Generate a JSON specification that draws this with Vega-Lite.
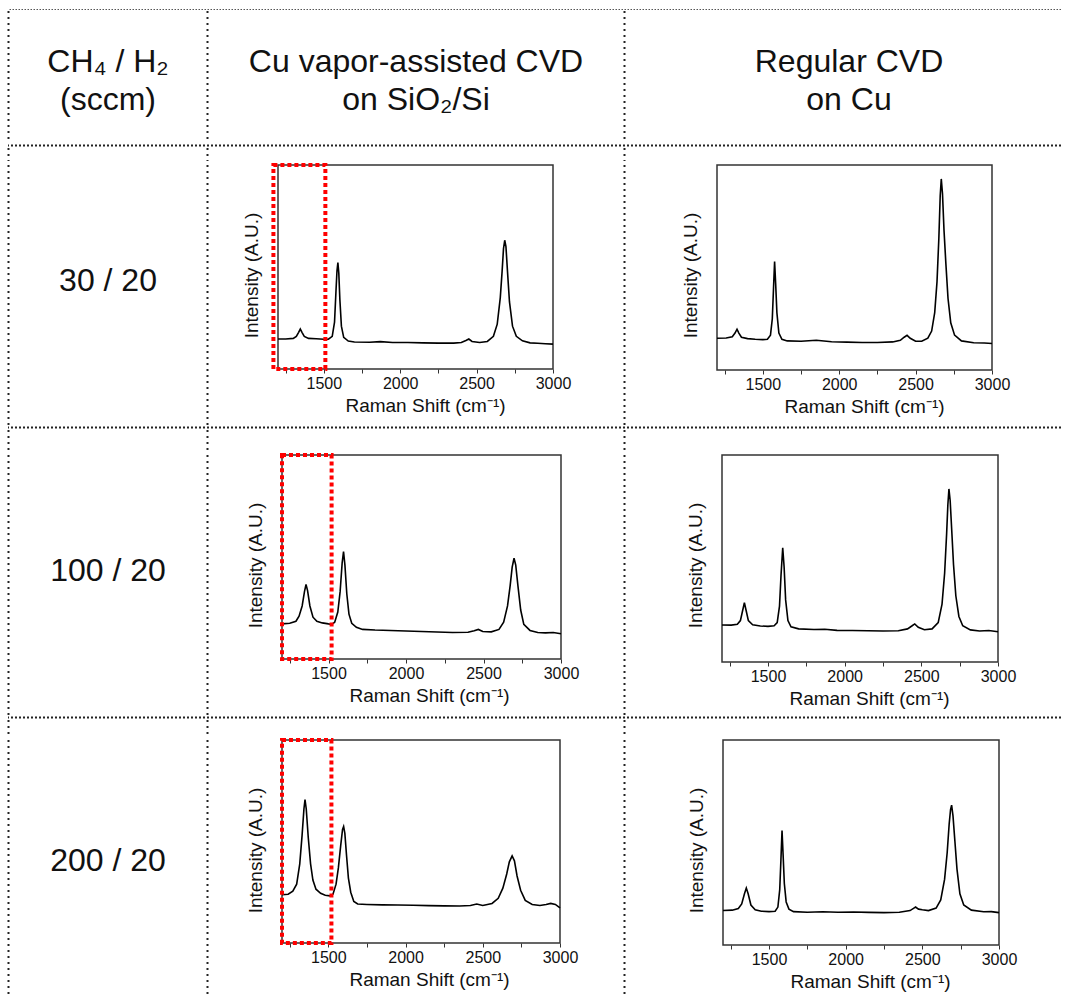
{
"$schema": "https://vega.github.io/schema/vega-lite/v6.json",
"padding": {"left": 7, "top": 9, "right": 0, "bottom": 0},
"background": "white",
"spacing": 0,
"bounds": "full",
"config": {
  "view": {"stroke": null},
  "concat": {"spacing": 0},
  "axis": {"grid": false, "domain": false, "labelFont": "Liberation Sans", "titleFont": "Liberation Sans", "labelColor": "#111", "titleColor": "#111", "titleFontWeight": "normal", "tickColor": "#333"},
  "axisX": {"tickSize": 4, "labelFontSize": 16, "labelPadding": 2, "titleFontSize": 19, "titlePadding": 5, "labelFlush": false, "labelOverlap": false, "titleX": 147},
  "axisY": {"titleFontSize": 19, "labels": false, "ticks": false, "minExtent": 0, "titlePadding": 17, "titleY": 110}
},
"datasets": {
  "A": [{"shift":1200,"intensity":0.147},{"shift":1250,"intensity":0.147},{"shift":1300,"intensity":0.150},{"shift":1320,"intensity":0.160},{"shift":1335,"intensity":0.180},{"shift":1346,"intensity":0.196},{"shift":1357,"intensity":0.180},{"shift":1372,"intensity":0.160},{"shift":1400,"intensity":0.150},{"shift":1450,"intensity":0.148},{"shift":1500,"intensity":0.146},{"shift":1530,"intensity":0.146},{"shift":1555,"intensity":0.160},{"shift":1570,"intensity":0.230},{"shift":1580,"intensity":0.390},{"shift":1586,"intensity":0.480},{"shift":1592,"intensity":0.522},{"shift":1598,"intensity":0.470},{"shift":1605,"intensity":0.340},{"shift":1615,"intensity":0.210},{"shift":1630,"intensity":0.155},{"shift":1660,"intensity":0.137},{"shift":1700,"intensity":0.132},{"shift":1800,"intensity":0.131},{"shift":1870,"intensity":0.134},{"shift":1950,"intensity":0.130},{"shift":2050,"intensity":0.130},{"shift":2150,"intensity":0.128},{"shift":2250,"intensity":0.127},{"shift":2350,"intensity":0.127},{"shift":2400,"intensity":0.130},{"shift":2430,"intensity":0.140},{"shift":2449,"intensity":0.147},{"shift":2470,"intensity":0.135},{"shift":2520,"intensity":0.130},{"shift":2570,"intensity":0.135},{"shift":2610,"intensity":0.160},{"shift":2635,"intensity":0.220},{"shift":2655,"intensity":0.350},{"shift":2667,"intensity":0.480},{"shift":2676,"intensity":0.590},{"shift":2684,"intensity":0.631},{"shift":2692,"intensity":0.600},{"shift":2702,"intensity":0.480},{"shift":2715,"intensity":0.330},{"shift":2735,"intensity":0.210},{"shift":2760,"intensity":0.160},{"shift":2800,"intensity":0.138},{"shift":2850,"intensity":0.128},{"shift":2900,"intensity":0.126},{"shift":2950,"intensity":0.124},{"shift":3000,"intensity":0.122}],
  "B": [{"shift":1200,"intensity":0.155},{"shift":1260,"intensity":0.156},{"shift":1300,"intensity":0.162},{"shift":1318,"intensity":0.180},{"shift":1331,"intensity":0.199},{"shift":1343,"intensity":0.180},{"shift":1360,"intensity":0.160},{"shift":1400,"intensity":0.153},{"shift":1450,"intensity":0.150},{"shift":1500,"intensity":0.148},{"shift":1530,"intensity":0.150},{"shift":1550,"intensity":0.170},{"shift":1562,"intensity":0.250},{"shift":1570,"intensity":0.400},{"shift":1577,"intensity":0.529},{"shift":1584,"intensity":0.420},{"shift":1592,"intensity":0.280},{"shift":1605,"intensity":0.180},{"shift":1625,"intensity":0.150},{"shift":1660,"intensity":0.142},{"shift":1750,"intensity":0.140},{"shift":1850,"intensity":0.145},{"shift":1950,"intensity":0.138},{"shift":2050,"intensity":0.136},{"shift":2150,"intensity":0.134},{"shift":2250,"intensity":0.134},{"shift":2350,"intensity":0.137},{"shift":2400,"intensity":0.145},{"shift":2425,"intensity":0.160},{"shift":2444,"intensity":0.169},{"shift":2465,"intensity":0.155},{"shift":2500,"intensity":0.140},{"shift":2540,"intensity":0.140},{"shift":2580,"intensity":0.155},{"shift":2605,"intensity":0.190},{"shift":2625,"intensity":0.280},{"shift":2640,"intensity":0.430},{"shift":2652,"intensity":0.640},{"shift":2661,"intensity":0.850},{"shift":2668,"intensity":0.932},{"shift":2676,"intensity":0.860},{"shift":2686,"intensity":0.680},{"shift":2698,"intensity":0.520},{"shift":2712,"intensity":0.350},{"shift":2730,"intensity":0.230},{"shift":2755,"intensity":0.170},{"shift":2800,"intensity":0.142},{"shift":2880,"intensity":0.133},{"shift":2950,"intensity":0.132},{"shift":3000,"intensity":0.129}],
  "C": [{"shift":1200,"intensity":0.172},{"shift":1250,"intensity":0.175},{"shift":1290,"intensity":0.185},{"shift":1310,"intensity":0.210},{"shift":1330,"intensity":0.260},{"shift":1345,"intensity":0.330},{"shift":1355,"intensity":0.365},{"shift":1365,"intensity":0.335},{"shift":1380,"intensity":0.260},{"shift":1400,"intensity":0.205},{"shift":1425,"intensity":0.185},{"shift":1460,"intensity":0.177},{"shift":1500,"intensity":0.172},{"shift":1520,"intensity":0.170},{"shift":1540,"intensity":0.180},{"shift":1560,"intensity":0.230},{"shift":1575,"intensity":0.330},{"shift":1588,"intensity":0.470},{"shift":1597,"intensity":0.526},{"shift":1606,"intensity":0.460},{"shift":1618,"intensity":0.320},{"shift":1632,"intensity":0.220},{"shift":1650,"intensity":0.175},{"shift":1680,"intensity":0.155},{"shift":1720,"intensity":0.145},{"shift":1800,"intensity":0.142},{"shift":1900,"intensity":0.140},{"shift":2000,"intensity":0.137},{"shift":2100,"intensity":0.135},{"shift":2200,"intensity":0.132},{"shift":2300,"intensity":0.130},{"shift":2400,"intensity":0.131},{"shift":2440,"intensity":0.138},{"shift":2467,"intensity":0.145},{"shift":2495,"intensity":0.135},{"shift":2550,"intensity":0.133},{"shift":2600,"intensity":0.145},{"shift":2630,"intensity":0.180},{"shift":2655,"intensity":0.260},{"shift":2672,"intensity":0.360},{"shift":2685,"intensity":0.450},{"shift":2697,"intensity":0.494},{"shift":2708,"intensity":0.460},{"shift":2722,"intensity":0.360},{"shift":2740,"intensity":0.240},{"shift":2760,"intensity":0.170},{"shift":2800,"intensity":0.140},{"shift":2850,"intensity":0.130},{"shift":2900,"intensity":0.128},{"shift":2950,"intensity":0.130},{"shift":3000,"intensity":0.124}],
  "D": [{"shift":1200,"intensity":0.179},{"shift":1260,"intensity":0.178},{"shift":1300,"intensity":0.182},{"shift":1320,"intensity":0.200},{"shift":1335,"intensity":0.250},{"shift":1346,"intensity":0.287},{"shift":1357,"intensity":0.250},{"shift":1372,"intensity":0.200},{"shift":1400,"intensity":0.180},{"shift":1450,"intensity":0.174},{"shift":1500,"intensity":0.172},{"shift":1540,"intensity":0.175},{"shift":1560,"intensity":0.190},{"shift":1575,"intensity":0.270},{"shift":1585,"intensity":0.420},{"shift":1596,"intensity":0.552},{"shift":1605,"intensity":0.460},{"shift":1615,"intensity":0.300},{"shift":1630,"intensity":0.200},{"shift":1650,"intensity":0.170},{"shift":1700,"intensity":0.160},{"shift":1800,"intensity":0.157},{"shift":1870,"intensity":0.158},{"shift":1950,"intensity":0.153},{"shift":2050,"intensity":0.152},{"shift":2150,"intensity":0.151},{"shift":2250,"intensity":0.150},{"shift":2350,"intensity":0.151},{"shift":2410,"intensity":0.160},{"shift":2440,"intensity":0.175},{"shift":2457,"intensity":0.184},{"shift":2480,"intensity":0.168},{"shift":2520,"intensity":0.156},{"shift":2570,"intensity":0.160},{"shift":2610,"intensity":0.190},{"shift":2635,"intensity":0.280},{"shift":2652,"intensity":0.430},{"shift":2665,"intensity":0.620},{"shift":2673,"intensity":0.760},{"shift":2680,"intensity":0.836},{"shift":2688,"intensity":0.780},{"shift":2698,"intensity":0.640},{"shift":2710,"intensity":0.470},{"shift":2725,"intensity":0.320},{"shift":2745,"intensity":0.220},{"shift":2770,"intensity":0.175},{"shift":2820,"intensity":0.155},{"shift":2880,"intensity":0.150},{"shift":2940,"intensity":0.152},{"shift":3000,"intensity":0.146}],
  "E": [{"shift":1200,"intensity":0.238},{"shift":1240,"intensity":0.240},{"shift":1270,"intensity":0.255},{"shift":1295,"intensity":0.290},{"shift":1315,"intensity":0.390},{"shift":1330,"intensity":0.530},{"shift":1342,"intensity":0.660},{"shift":1349,"intensity":0.707},{"shift":1357,"intensity":0.660},{"shift":1370,"intensity":0.520},{"shift":1385,"intensity":0.390},{"shift":1400,"intensity":0.310},{"shift":1420,"intensity":0.265},{"shift":1450,"intensity":0.245},{"shift":1480,"intensity":0.235},{"shift":1510,"intensity":0.232},{"shift":1530,"intensity":0.240},{"shift":1550,"intensity":0.290},{"shift":1565,"intensity":0.370},{"shift":1580,"intensity":0.480},{"shift":1592,"intensity":0.560},{"shift":1599,"intensity":0.574},{"shift":1607,"intensity":0.540},{"shift":1618,"intensity":0.430},{"shift":1630,"intensity":0.320},{"shift":1645,"intensity":0.250},{"shift":1665,"intensity":0.205},{"shift":1690,"intensity":0.192},{"shift":1750,"intensity":0.190},{"shift":1850,"intensity":0.188},{"shift":1950,"intensity":0.187},{"shift":2050,"intensity":0.186},{"shift":2150,"intensity":0.184},{"shift":2250,"intensity":0.183},{"shift":2350,"intensity":0.182},{"shift":2420,"intensity":0.185},{"shift":2461,"intensity":0.192},{"shift":2500,"intensity":0.185},{"shift":2560,"intensity":0.195},{"shift":2600,"intensity":0.220},{"shift":2630,"intensity":0.270},{"shift":2655,"intensity":0.340},{"shift":2672,"intensity":0.400},{"shift":2690,"intensity":0.429},{"shift":2705,"intensity":0.405},{"shift":2722,"intensity":0.330},{"shift":2745,"intensity":0.260},{"shift":2775,"intensity":0.210},{"shift":2820,"intensity":0.190},{"shift":2870,"intensity":0.185},{"shift":2910,"intensity":0.190},{"shift":2940,"intensity":0.195},{"shift":2970,"intensity":0.190},{"shift":3000,"intensity":0.173}],
  "F": [{"shift":1200,"intensity":0.168},{"shift":1260,"intensity":0.170},{"shift":1300,"intensity":0.178},{"shift":1322,"intensity":0.200},{"shift":1340,"intensity":0.250},{"shift":1352,"intensity":0.278},{"shift":1364,"intensity":0.250},{"shift":1382,"intensity":0.195},{"shift":1410,"intensity":0.172},{"shift":1450,"intensity":0.165},{"shift":1500,"intensity":0.163},{"shift":1540,"intensity":0.165},{"shift":1558,"intensity":0.185},{"shift":1570,"intensity":0.270},{"shift":1578,"intensity":0.420},{"shift":1585,"intensity":0.558},{"shift":1592,"intensity":0.440},{"shift":1600,"intensity":0.300},{"shift":1612,"intensity":0.210},{"shift":1630,"intensity":0.175},{"shift":1660,"intensity":0.163},{"shift":1750,"intensity":0.160},{"shift":1850,"intensity":0.162},{"shift":1950,"intensity":0.160},{"shift":2050,"intensity":0.161},{"shift":2150,"intensity":0.159},{"shift":2250,"intensity":0.158},{"shift":2350,"intensity":0.160},{"shift":2420,"intensity":0.168},{"shift":2445,"intensity":0.180},{"shift":2456,"intensity":0.185},{"shift":2475,"intensity":0.175},{"shift":2500,"intensity":0.172},{"shift":2540,"intensity":0.168},{"shift":2590,"intensity":0.180},{"shift":2620,"intensity":0.220},{"shift":2645,"intensity":0.320},{"shift":2662,"intensity":0.450},{"shift":2675,"intensity":0.590},{"shift":2684,"intensity":0.660},{"shift":2691,"intensity":0.682},{"shift":2700,"intensity":0.630},{"shift":2712,"intensity":0.510},{"shift":2726,"intensity":0.370},{"shift":2745,"intensity":0.250},{"shift":2770,"intensity":0.195},{"shift":2820,"intensity":0.170},{"shift":2900,"intensity":0.162},{"shift":2950,"intensity":0.163},{"shift":3000,"intensity":0.158}],
  "boxA": [{"from": 1170, "to": 1510}],
  "boxC": [{"from": 1200, "to": 1520}],
  "boxE": [{"from": 1200, "to": 1520}]
},
"vconcat": [
  {"width": 1053, "height": 1, "data": {"values": [{"v": 0}]}, "mark": {"type": "rule", "color": "#555", "strokeWidth": 1, "strokeDash": [1.5, 1.5]}, "encoding": {"y": {"field": "v", "type": "quantitative", "axis": null}}},
  {"hconcat": [
    {"width": 1, "height": 132, "data": {"values": [{"v": 0}]}, "mark": {"type": "rule", "color": "#222", "strokeWidth": 2, "strokeDash": [2, 4]}, "encoding": {"x": {"field": "v", "type": "quantitative", "axis": null}}},
    {"width": 198, "height": 132, "data": {"values": [{"label": "CH₄ / H₂\n(sccm)"}]}, "mark": {"type": "text", "font": "Liberation Sans", "fontSize": 32, "lineBreak": "\n", "lineHeight": 38, "color": "#111", "dy": -15}, "encoding": {"text": {"field": "label"}}},
    {"width": 1, "height": 132, "data": {"values": [{"v": 0}]}, "mark": {"type": "rule", "color": "#222", "strokeWidth": 2, "strokeDash": [2, 4]}, "encoding": {"x": {"field": "v", "type": "quantitative", "axis": null}}},
    {"width": 416, "height": 132, "data": {"values": [{"label": "Cu vapor-assisted CVD\non SiO₂/Si"}]}, "mark": {"type": "text", "font": "Liberation Sans", "fontSize": 32, "lineBreak": "\n", "lineHeight": 38, "color": "#111", "dy": -15}, "encoding": {"text": {"field": "label"}}},
    {"width": 1, "height": 132, "data": {"values": [{"v": 0}]}, "mark": {"type": "rule", "color": "#222", "strokeWidth": 2, "strokeDash": [2, 4]}, "encoding": {"x": {"field": "v", "type": "quantitative", "axis": null}}},
    {"width": 436, "height": 132, "data": {"values": [{"label": "Regular CVD\non Cu"}]}, "mark": {"type": "text", "font": "Liberation Sans", "fontSize": 32, "lineBreak": "\n", "lineHeight": 38, "color": "#111", "dy": -15, "dx": 6}, "encoding": {"text": {"field": "label"}}}
  ], "spacing": 0, "bounds": "flush"},
  {"width": 1053, "height": 1, "data": {"values": [{"v": 0}]}, "mark": {"type": "rule", "color": "#222", "strokeWidth": 2, "strokeDash": [2, 2]}, "encoding": {"y": {"field": "v", "type": "quantitative", "axis": null}}},
  {"hconcat": [
    {"width": 1, "height": 13, "data": {"values": [{"v": 0}]}, "mark": {"type": "rule", "color": "#222", "strokeWidth": 2, "strokeDash": [2, 4]}, "encoding": {"x": {"field": "v", "type": "quantitative", "axis": null}}},
    {"width": 198, "height": 1, "data": {"values": []}, "mark": "point"},
    {"width": 1, "height": 13, "data": {"values": [{"v": 0}]}, "mark": {"type": "rule", "color": "#222", "strokeWidth": 2, "strokeDash": [2, 4]}, "encoding": {"x": {"field": "v", "type": "quantitative", "axis": null}}},
    {"width": 416, "height": 1, "data": {"values": []}, "mark": "point"},
    {"width": 1, "height": 13, "data": {"values": [{"v": 0}]}, "mark": {"type": "rule", "color": "#222", "strokeWidth": 2, "strokeDash": [2, 4]}, "encoding": {"x": {"field": "v", "type": "quantitative", "axis": null}}}
  ], "spacing": 0, "bounds": "flush"},
  {"hconcat": [
    {"width": 1, "height": 260, "data": {"values": [{"v": 0}]}, "mark": {"type": "rule", "color": "#222", "strokeWidth": 2, "strokeDash": [2, 4]}, "encoding": {"x": {"field": "v", "type": "quantitative", "axis": null}}},
    {"width": 198, "height": 232, "data": {"values": [{"label": "30 / 20"}]}, "mark": {"type": "text", "font": "Liberation Sans", "fontSize": 32, "color": "#111"}, "encoding": {"text": {"field": "label"}}},
    {"width": 1, "height": 260, "data": {"values": [{"v": 0}]}, "mark": {"type": "rule", "color": "#222", "strokeWidth": 2, "strokeDash": [2, 4]}, "encoding": {"x": {"field": "v", "type": "quantitative", "axis": null}}},
    {"width": 70, "height": 1, "data": {"values": []}, "mark": "point"},
    {"width": 275, "height": 204, "view": {"stroke": "#333", "strokeWidth": 1.5}, "layer": [
      {"data": {"name": "A"}, "mark": {"type": "line", "color": "#000", "strokeWidth": 1.6}, "encoding": {
        "x": {"field": "shift", "type": "quantitative", "scale": {"domain": [1200, 3000], "nice": false, "zero": false}, "axis": {"values": [1250,1500,1750,2000,2250,2500,2750,3000], "labelExpr": "datum.value % 500 == 0 ? '' + datum.value : ''", "title": "Raman Shift (cm⁻¹)"}},
        "y": {"field": "intensity", "type": "quantitative", "scale": {"domain": [0, 1], "nice": false}, "axis": {"title": "Intensity (A.U.)"}}}},
      {"data": {"name": "boxA"}, "mark": {"type": "rect", "filled": false, "color": "#ff0000", "strokeWidth": 4, "strokeDash": [4, 3]}, "encoding": {"x": {"field": "from", "type": "quantitative", "scale": {"domain": [1200, 3000], "nice": false, "zero": false}, "axis": {"values": [1250,1500,1750,2000,2250,2500,2750,3000], "labelExpr": "datum.value % 500 == 0 ? '' + datum.value : ''", "title": "Raman Shift (cm⁻¹)"}}, "x2": {"field": "to"}}}
    ]},
    {"width": 71, "height": 1, "data": {"values": []}, "mark": "point"},
    {"width": 1, "height": 260, "data": {"values": [{"v": 0}]}, "mark": {"type": "rule", "color": "#222", "strokeWidth": 2, "strokeDash": [2, 4]}, "encoding": {"x": {"field": "v", "type": "quantitative", "axis": null}}},
    {"width": 92, "height": 1, "data": {"values": []}, "mark": "point"},
    {"width": 275, "height": 205, "view": {"stroke": "#333", "strokeWidth": 1.5}, "data": {"name": "B"}, "mark": {"type": "line", "color": "#000", "strokeWidth": 1.6}, "encoding": {
        "x": {"field": "shift", "type": "quantitative", "scale": {"domain": [1200, 3000], "nice": false, "zero": false}, "axis": {"values": [1250,1500,1750,2000,2250,2500,2750,3000], "labelExpr": "datum.value % 500 == 0 ? '' + datum.value : ''", "title": "Raman Shift (cm⁻¹)"}},
        "y": {"field": "intensity", "type": "quantitative", "scale": {"domain": [0, 1], "nice": false}, "axis": {"title": "Intensity (A.U.)"}}}}
  ], "spacing": 0, "bounds": "flush"},
  {"width": 1053, "height": 1, "data": {"values": [{"v": 0}]}, "mark": {"type": "rule", "color": "#222", "strokeWidth": 2, "strokeDash": [2, 2]}, "encoding": {"y": {"field": "v", "type": "quantitative", "axis": null}}},
  {"hconcat": [
    {"width": 1, "height": 21, "data": {"values": [{"v": 0}]}, "mark": {"type": "rule", "color": "#222", "strokeWidth": 2, "strokeDash": [2, 4]}, "encoding": {"x": {"field": "v", "type": "quantitative", "axis": null}}},
    {"width": 198, "height": 1, "data": {"values": []}, "mark": "point"},
    {"width": 1, "height": 21, "data": {"values": [{"v": 0}]}, "mark": {"type": "rule", "color": "#222", "strokeWidth": 2, "strokeDash": [2, 4]}, "encoding": {"x": {"field": "v", "type": "quantitative", "axis": null}}},
    {"width": 416, "height": 1, "data": {"values": []}, "mark": "point"},
    {"width": 1, "height": 21, "data": {"values": [{"v": 0}]}, "mark": {"type": "rule", "color": "#222", "strokeWidth": 2, "strokeDash": [2, 4]}, "encoding": {"x": {"field": "v", "type": "quantitative", "axis": null}}}
  ], "spacing": 0, "bounds": "flush"},
  {"hconcat": [
    {"width": 1, "height": 260, "data": {"values": [{"v": 0}]}, "mark": {"type": "rule", "color": "#222", "strokeWidth": 2, "strokeDash": [2, 4]}, "encoding": {"x": {"field": "v", "type": "quantitative", "axis": null}}},
    {"width": 198, "height": 232, "data": {"values": [{"label": "100 / 20"}]}, "mark": {"type": "text", "font": "Liberation Sans", "fontSize": 32, "color": "#111"}, "encoding": {"text": {"field": "label"}}},
    {"width": 1, "height": 260, "data": {"values": [{"v": 0}]}, "mark": {"type": "rule", "color": "#222", "strokeWidth": 2, "strokeDash": [2, 4]}, "encoding": {"x": {"field": "v", "type": "quantitative", "axis": null}}},
    {"width": 74, "height": 1, "data": {"values": []}, "mark": "point"},
    {"width": 279, "height": 204, "view": {"stroke": "#333", "strokeWidth": 1.5}, "layer": [
      {"data": {"name": "C"}, "mark": {"type": "line", "color": "#000", "strokeWidth": 1.6}, "encoding": {
        "x": {"field": "shift", "type": "quantitative", "scale": {"domain": [1200, 3000], "nice": false, "zero": false}, "axis": {"values": [1250,1500,1750,2000,2250,2500,2750,3000], "labelExpr": "datum.value % 500 == 0 ? '' + datum.value : ''", "title": "Raman Shift (cm⁻¹)"}},
        "y": {"field": "intensity", "type": "quantitative", "scale": {"domain": [0, 1], "nice": false}, "axis": {"title": "Intensity (A.U.)"}}}},
      {"data": {"name": "boxC"}, "mark": {"type": "rect", "filled": false, "color": "#ff0000", "strokeWidth": 4, "strokeDash": [4, 3]}, "encoding": {"x": {"field": "from", "type": "quantitative", "scale": {"domain": [1200, 3000], "nice": false, "zero": false}, "axis": {"values": [1250,1500,1750,2000,2250,2500,2750,3000], "labelExpr": "datum.value % 500 == 0 ? '' + datum.value : ''", "title": "Raman Shift (cm⁻¹)"}}, "x2": {"field": "to"}}}
    ]},
    {"width": 63, "height": 1, "data": {"values": []}, "mark": "point"},
    {"width": 1, "height": 260, "data": {"values": [{"v": 0}]}, "mark": {"type": "rule", "color": "#222", "strokeWidth": 2, "strokeDash": [2, 4]}, "encoding": {"x": {"field": "v", "type": "quantitative", "axis": null}}},
    {"width": 97, "height": 1, "data": {"values": []}, "mark": "point"},
    {"width": 276, "height": 207, "view": {"stroke": "#333", "strokeWidth": 1.5}, "data": {"name": "D"}, "mark": {"type": "line", "color": "#000", "strokeWidth": 1.6}, "encoding": {
        "x": {"field": "shift", "type": "quantitative", "scale": {"domain": [1200, 3000], "nice": false, "zero": false}, "axis": {"values": [1250,1500,1750,2000,2250,2500,2750,3000], "labelExpr": "datum.value % 500 == 0 ? '' + datum.value : ''", "title": "Raman Shift (cm⁻¹)"}},
        "y": {"field": "intensity", "type": "quantitative", "scale": {"domain": [0, 1], "nice": false}, "axis": {"title": "Intensity (A.U.)"}}}}
  ], "spacing": 0, "bounds": "flush"},
  {"width": 1053, "height": 1, "data": {"values": [{"v": 0}]}, "mark": {"type": "rule", "color": "#222", "strokeWidth": 2, "strokeDash": [2, 2]}, "encoding": {"y": {"field": "v", "type": "quantitative", "axis": null}}},
  {"hconcat": [
    {"width": 1, "height": 16, "data": {"values": [{"v": 0}]}, "mark": {"type": "rule", "color": "#222", "strokeWidth": 2, "strokeDash": [2, 4]}, "encoding": {"x": {"field": "v", "type": "quantitative", "axis": null}}},
    {"width": 198, "height": 1, "data": {"values": []}, "mark": "point"},
    {"width": 1, "height": 16, "data": {"values": [{"v": 0}]}, "mark": {"type": "rule", "color": "#222", "strokeWidth": 2, "strokeDash": [2, 4]}, "encoding": {"x": {"field": "v", "type": "quantitative", "axis": null}}},
    {"width": 416, "height": 1, "data": {"values": []}, "mark": "point"},
    {"width": 1, "height": 16, "data": {"values": [{"v": 0}]}, "mark": {"type": "rule", "color": "#222", "strokeWidth": 2, "strokeDash": [2, 4]}, "encoding": {"x": {"field": "v", "type": "quantitative", "axis": null}}}
  ], "spacing": 0, "bounds": "flush"},
  {"hconcat": [
    {"width": 1, "height": 256, "data": {"values": [{"v": 0}]}, "mark": {"type": "rule", "color": "#222", "strokeWidth": 2, "strokeDash": [2, 4]}, "encoding": {"x": {"field": "v", "type": "quantitative", "axis": null}}},
    {"width": 198, "height": 242, "data": {"values": [{"label": "200 / 20"}]}, "mark": {"type": "text", "font": "Liberation Sans", "fontSize": 32, "color": "#111"}, "encoding": {"text": {"field": "label"}}},
    {"width": 1, "height": 256, "data": {"values": [{"v": 0}]}, "mark": {"type": "rule", "color": "#222", "strokeWidth": 2, "strokeDash": [2, 4]}, "encoding": {"x": {"field": "v", "type": "quantitative", "axis": null}}},
    {"width": 74, "height": 1, "data": {"values": []}, "mark": "point"},
    {"width": 278, "height": 203, "view": {"stroke": "#333", "strokeWidth": 1.5}, "layer": [
      {"data": {"name": "E"}, "mark": {"type": "line", "color": "#000", "strokeWidth": 1.6}, "encoding": {
        "x": {"field": "shift", "type": "quantitative", "scale": {"domain": [1200, 3000], "nice": false, "zero": false}, "axis": {"values": [1250,1500,1750,2000,2250,2500,2750,3000], "labelExpr": "datum.value % 500 == 0 ? '' + datum.value : ''", "title": "Raman Shift (cm⁻¹)"}},
        "y": {"field": "intensity", "type": "quantitative", "scale": {"domain": [0, 1], "nice": false}, "axis": {"title": "Intensity (A.U.)"}}}},
      {"data": {"name": "boxE"}, "mark": {"type": "rect", "filled": false, "color": "#ff0000", "strokeWidth": 4, "strokeDash": [4, 3]}, "encoding": {"x": {"field": "from", "type": "quantitative", "scale": {"domain": [1200, 3000], "nice": false, "zero": false}, "axis": {"values": [1250,1500,1750,2000,2250,2500,2750,3000], "labelExpr": "datum.value % 500 == 0 ? '' + datum.value : ''", "title": "Raman Shift (cm⁻¹)"}}, "x2": {"field": "to"}}}
    ]},
    {"width": 64, "height": 1, "data": {"values": []}, "mark": "point"},
    {"width": 1, "height": 256, "data": {"values": [{"v": 0}]}, "mark": {"type": "rule", "color": "#222", "strokeWidth": 2, "strokeDash": [2, 4]}, "encoding": {"x": {"field": "v", "type": "quantitative", "axis": null}}},
    {"width": 98, "height": 1, "data": {"values": []}, "mark": "point"},
    {"width": 276, "height": 205, "view": {"stroke": "#333", "strokeWidth": 1.5}, "data": {"name": "F"}, "mark": {"type": "line", "color": "#000", "strokeWidth": 1.6}, "encoding": {
        "x": {"field": "shift", "type": "quantitative", "scale": {"domain": [1200, 3000], "nice": false, "zero": false}, "axis": {"values": [1250,1500,1750,2000,2250,2500,2750,3000], "labelExpr": "datum.value % 500 == 0 ? '' + datum.value : ''", "title": "Raman Shift (cm⁻¹)"}},
        "y": {"field": "intensity", "type": "quantitative", "scale": {"domain": [0, 1], "nice": false}, "axis": {"title": "Intensity (A.U.)"}}}}
  ], "spacing": 0, "bounds": "flush"}
]
}
